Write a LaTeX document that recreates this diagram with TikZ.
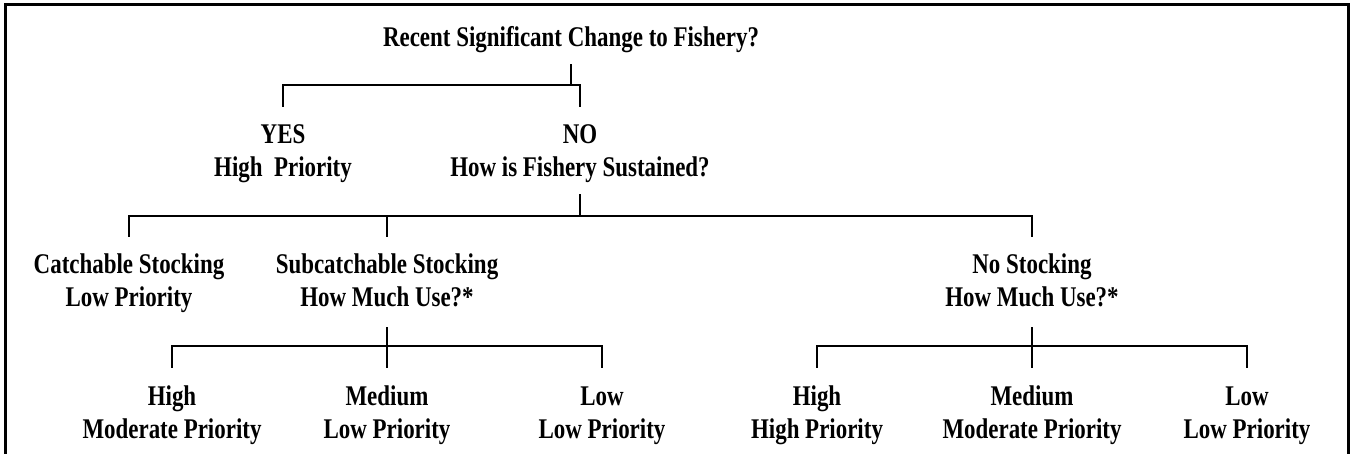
\documentclass[tikz,border=0pt]{standalone}
\usepackage{fontspec}
\setmainfont{Liberation Serif}[FakeStretch=0.805]
\begin{document}
\begin{tikzpicture}[x=1pt,y=-1pt,
  lbl/.style={anchor=north,inner sep=0pt,align=center,
    font=\fontsize{28.5}{33}\selectfont\bfseries},
  conn/.style={line width=1.6pt},
  frame/.style={line width=3pt}]
\useasboundingbox (0,0) rectangle (1355,454);
\draw[frame] (5,470) -- (5,5) -- (1348,5) -- (1348,470);
% nodes (north = first baseline - 23.1)
\node[lbl] (title) at (571,22.9) {\strut Recent Significant Change to Fishery?};
\node[lbl] (yes) at (283,119.9) {\strut YES\\\strut High~~Priority};
\node[lbl] (no) at (580,119.9) {\strut NO\\\strut How is Fishery Sustained?};
\node[lbl] (catch) at (129,249.9) {\strut Catchable Stocking\\\strut Low Priority};
\node[lbl] (sub) at (387,249.9) {\strut Subcatchable Stocking\\\strut How Much Use?*};
\node[lbl] (nost) at (1032,249.9) {\strut No Stocking\\\strut How Much Use?*};
\node[lbl] (subH) at (172,381.9) {\strut High\\\strut Moderate Priority};
\node[lbl] (subM) at (387,381.9) {\strut Medium\\\strut Low Priority};
\node[lbl] (subL) at (602,381.9) {\strut Low\\\strut Low Priority};
\node[lbl] (noH) at (817,381.9) {\strut High\\\strut High Priority};
\node[lbl] (noM) at (1032,381.9) {\strut Medium\\\strut Moderate Priority};
\node[lbl] (noL) at (1247,381.9) {\strut Low\\\strut Low Priority};
% level 1
\draw[conn] ([yshift=-8pt]title.south) -- ([yshift=-29pt]title.south);
\draw[conn] ([yshift=13pt]yes.north) -- ([yshift=35pt]yes.north) -- ([yshift=35pt]no.north) -- ([yshift=13pt]no.north);
% level 2
\draw[conn] ([yshift=-8pt]no.south) -- ([yshift=-29pt]no.south);
\draw[conn] ([yshift=13pt]catch.north) -- ([yshift=34pt]catch.north) -- ([yshift=34pt]nost.north) -- ([yshift=13pt]nost.north);
\draw[conn] ([yshift=13pt]sub.north) -- ([yshift=34pt]sub.north);
% level 3 (subcatchable)
\draw[conn] ([yshift=-11pt]sub.south) -- ([yshift=-30pt]sub.south);
\draw[conn] ([yshift=14pt]subH.north) -- ([yshift=36pt]subH.north) -- ([yshift=36pt]subL.north) -- ([yshift=14pt]subL.north);
\draw[conn] ([yshift=14pt]subM.north) -- ([yshift=36pt]subM.north);
% level 3 (no stocking)
\draw[conn] ([yshift=-11pt]nost.south) -- ([yshift=-30pt]nost.south);
\draw[conn] ([yshift=14pt]noH.north) -- ([yshift=36pt]noH.north) -- ([yshift=36pt]noL.north) -- ([yshift=14pt]noL.north);
\draw[conn] ([yshift=14pt]noM.north) -- ([yshift=36pt]noM.north);
\end{tikzpicture}
\end{document}
